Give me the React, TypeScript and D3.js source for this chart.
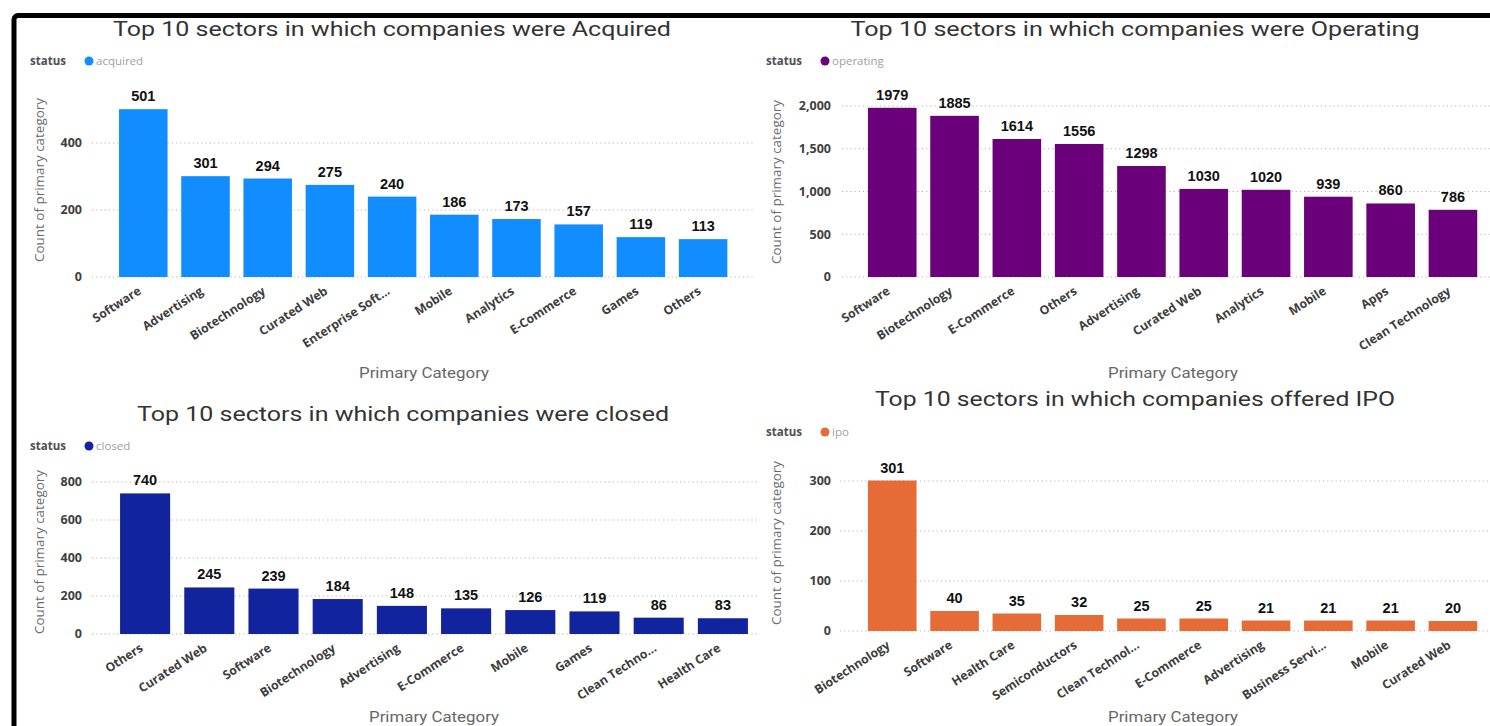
import React from "react";
import * as d3 from "d3";

// ---------- DATA ----------
const acquiredCategories = ["Software", "Advertising", "Biotechnology", "Curated Web", "Enterprise Soft...", "Mobile", "Analytics", "E-Commerce", "Games", "Others"];
const acquiredValues = [501, 301, 294, 275, 240, 186, 173, 157, 119, 113];
const acquiredTicks = [0, 200, 400];

const operatingCategories = ["Software", "Biotechnology", "E-Commerce", "Others", "Advertising", "Curated Web", "Analytics", "Mobile", "Apps", "Clean Technology"];
const operatingValues = [1979, 1885, 1614, 1556, 1298, 1030, 1020, 939, 860, 786];
const operatingTicks = [0, 500, 1000, 1500, 2000];

const closedCategories = ["Others", "Curated Web", "Software", "Biotechnology", "Advertising", "E-Commerce", "Mobile", "Games", "Clean Techno...", "Health Care"];
const closedValues = [740, 245, 239, 184, 148, 135, 126, 119, 86, 83];
const closedTicks = [0, 200, 400, 600, 800];

const ipoCategories = ["Biotechnology", "Software", "Health Care", "Semiconductors", "Clean Technol...", "E-Commerce", "Advertising", "Business Servi...", "Mobile", "Curated Web"];
const ipoValues = [301, 40, 35, 32, 25, 25, 21, 21, 21, 20];
const ipoTicks = [0, 100, 200, 300];

const titles = [
  "Top 10 sectors in which companies were Acquired",
  "Top 10 sectors in which companies were Operating",
  "Top 10 sectors in which companies were closed",
  "Top 10 sectors in which companies offered IPO",
];
const statusLabels = ["acquired", "operating", "closed", "ipo"];
const colors = ["#118DFF", "#6B007B", "#12239E", "#E66C37"];

// ---------- LAYOUT ----------
type Layout = {
  titleX: number; titleY: number; titleW: number;
  legendX: number; legendY: number;
  xRange: [number, number];
  yZero: number; yMax: number; yTop: number;
  gridX0: number; gridX1: number;
  tickRight: number;
  yTitleX: number; yTitleY: number;
  xTitleX: number; xTitleY: number;
};

const layouts: Layout[] = [
  { titleX: 392, titleY: 36, titleW: 558, legendX: 30, legendY: 61, xRange: [112.2, 734.2], yZero: 277, yMax: 540, yTop: 277 - 540 * 0.335, gridX0: 92, gridX1: 753, tickRight: 82, yTitleX: 40, yTitleY: 180, xTitleX: 424, xTitleY: 378 },
  { titleX: 1135, titleY: 36, titleW: 569, legendX: 766, legendY: 61, xRange: [861.1, 1484.1], yZero: 277, yMax: 2100, yTop: 277 - 2100 * 0.0855, gridX0: 842, gridX1: 1490, tickRight: 831, yTitleX: 777, yTitleY: 182, xTitleX: 1173, xTitleY: 378 },
  { titleX: 403, titleY: 421, titleW: 532, legendX: 30, legendY: 446, xRange: [113, 755], yZero: 634, yMax: 850, yTop: 634 - 850 * 0.19, gridX0: 92, gridX1: 757, tickRight: 82, yTitleX: 40, yTitleY: 552, xTitleX: 434, xTitleY: 722 },
  { titleX: 1135, titleY: 406, titleW: 520, legendX: 766, legendY: 432, xRange: [861.1, 1484.1], yZero: 631, yMax: 320, yTop: 631 - 320 * 0.5, gridX0: 840, gridX1: 1490, tickRight: 831, yTitleX: 777, yTitleY: 543, xTitleX: 1173, xTitleY: 722 },
];

const FONT = "'Open Sans', 'Noto Sans', sans-serif";
const TITLE_FONT = "Roboto, 'Open Sans', sans-serif";

function Panel({ idx, cats, vals, ticks }: { idx: number; cats: string[]; vals: number[]; ticks: number[] }) {
  const L = layouts[idx];
  const color = colors[idx];
  const x = d3.scaleBand<string>().domain(cats).range(L.xRange).paddingInner(0.22).paddingOuter(0.11);
  const y = d3.scaleLinear().domain([0, L.yMax]).range([L.yZero, L.yTop]);
  const fmt = d3.format(",");
  return (
    <g>
      <text x={L.titleX} y={L.titleY} textAnchor="middle" fontFamily={TITLE_FONT} fontSize={20} fill="#333" textLength={L.titleW} lengthAdjust="spacingAndGlyphs">
        {titles[idx]}
      </text>
      {/* legend */}
      <text x={L.legendX} y={L.legendY + 4} fontFamily={FONT} fontSize={11.5} fontWeight={700} fill="#505050">status</text>
      <circle cx={L.legendX + 59} cy={L.legendY} r={4.5} fill={color} />
      <text x={L.legendX + 66} y={L.legendY + 4} fontFamily={FONT} fontSize={11.5} fill="#a0a0a0">{statusLabels[idx]}</text>
      {/* gridlines + ticks */}
      {ticks.map((t) => (
        <g key={t}>
          <line x1={L.gridX0} x2={L.gridX1} y1={y(t)} y2={y(t)} stroke="#b4b4b4" strokeWidth={1.2} strokeDasharray="1.2,3" />
          <text x={L.tickRight} y={y(t)} dy="0.35em" textAnchor="end" fontFamily={FONT} fontSize={12.5} fontWeight={700} fill="#404040">{fmt(t)}</text>
        </g>
      ))}
      {/* bars */}
      {cats.map((c, i) => (
        <rect key={c} x={x(c)} y={y(vals[i])} width={x.bandwidth()} height={L.yZero - y(vals[i])} fill={color} />
      ))}
      {/* data labels */}
      {cats.map((c, i) => (
        <text key={c} x={(x(c) as number) + x.bandwidth() / 2} y={y(vals[i]) - 8} textAnchor="middle" fontFamily="'Liberation Sans', Arial, sans-serif" fontSize={14.5} fontWeight={700} fill="#111">
          {vals[i]}
        </text>
      ))}
      {/* category labels */}
      {cats.map((c) => {
        const cx = (x(c) as number) + x.bandwidth() / 2 - 6;
        const cy = L.yZero + 9;
        return (
          <text key={c} transform={`translate(${cx},${cy}) rotate(-33)`} dy="0.7em" textAnchor="end" fontFamily={FONT} fontSize={12.2} fontWeight={700} fill="#3c3c3c">
            {c}
          </text>
        );
      })}
      {/* axis titles */}
      <text transform={`translate(${L.yTitleX},${L.yTitleY}) rotate(-90)`} dy="0.35em" textAnchor="middle" fontFamily={FONT} fontSize={12} fill="#6a6a6a" textLength={164} lengthAdjust="spacingAndGlyphs">
        Count of primary category
      </text>
      <text x={L.xTitleX} y={L.xTitleY} textAnchor="middle" fontFamily={TITLE_FONT} fontSize={14} fill="#666" textLength={130} lengthAdjust="spacingAndGlyphs">
        Primary Category
      </text>
    </g>
  );
}

export default function App() {
  return (
    <svg width={1490} height={726} style={{ position: "absolute", left: 0, top: 0, background: "#fff" }}>
      <rect x={0} y={0} width={1490} height={726} fill="#fff" />
      <Panel idx={0} cats={acquiredCategories} vals={acquiredValues} ticks={acquiredTicks} />
      <Panel idx={1} cats={operatingCategories} vals={operatingValues} ticks={operatingTicks} />
      <Panel idx={2} cats={closedCategories} vals={closedValues} ticks={closedTicks} />
      <Panel idx={3} cats={ipoCategories} vals={ipoValues} ticks={ipoTicks} />
      <rect x={14} y={15.5} width={1600} height={900} rx={4} fill="none" stroke="#000" strokeWidth={5} />
    </svg>
  );
}
